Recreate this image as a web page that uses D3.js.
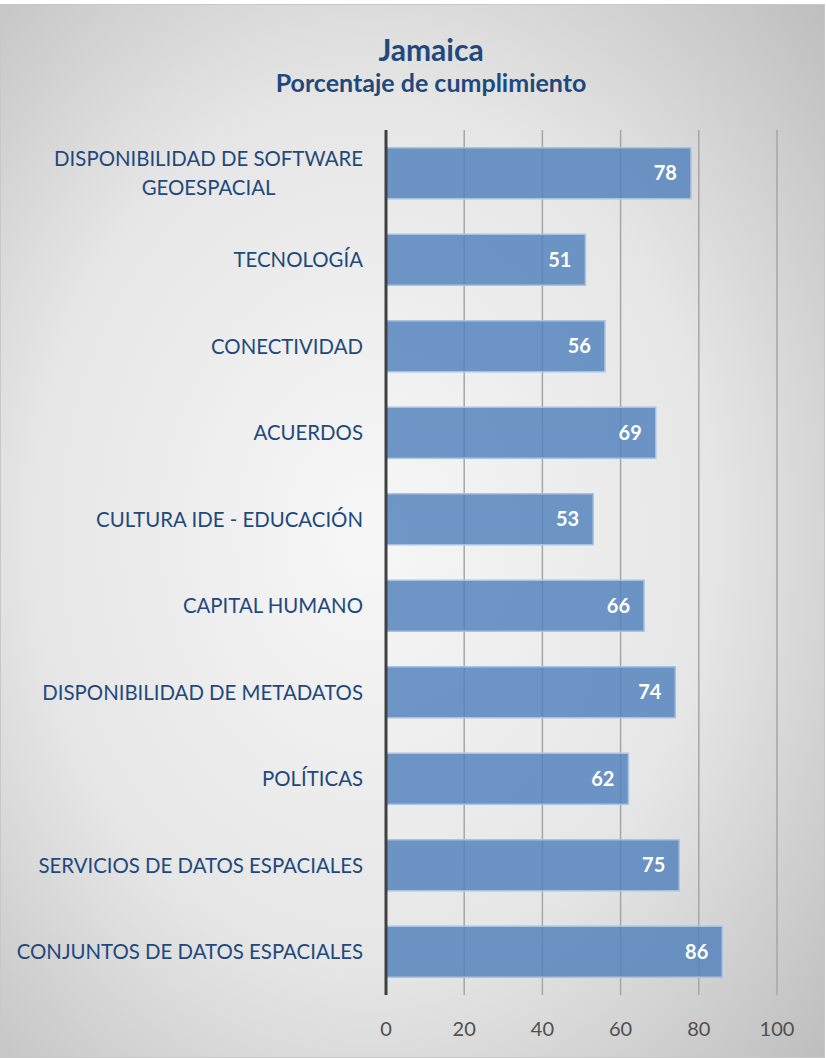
<!DOCTYPE html>
<meta charset="utf-8">
<style>
  body { margin: 0; background: #fff; }
  text { font-family: Lato, "Open Sans", sans-serif; }
</style>
<script src="https://d3js.org/d3.v7.min.js"></script>
<div id="my_dataviz"></div>
<script>
// data
var categories = [
  "DISPONIBILIDAD DE SOFTWARE GEOESPACIAL",
  "TECNOLOGÍA",
  "CONECTIVIDAD",
  "ACUERDOS",
  "CULTURA IDE - EDUCACIÓN",
  "CAPITAL HUMANO",
  "DISPONIBILIDAD DE METADATOS",
  "POLÍTICAS",
  "SERVICIOS DE DATOS ESPACIALES",
  "CONJUNTOS DE DATOS ESPACIALES"
];
var values = [78, 51, 56, 69, 53, 66, 74, 62, 75, 86];
var tickValues = [0, 20, 40, 60, 80, 100];

var width = 826, height = 1058;
var margin = {top: 130, right: 49, bottom: 63, left: 386};

var svg = d3.select("#my_dataviz").append("svg")
  .attr("width", width)
  .attr("height", height);

// background gradient
var grad = svg.append("defs").append("radialGradient")
  .attr("id", "bg")
  .attr("cx", "45%").attr("cy", "50%").attr("r", "75%");
grad.append("stop").attr("offset", "0%").attr("stop-color", "#f7f7f7");
grad.append("stop").attr("offset", "55%").attr("stop-color", "#e6e6e6");
grad.append("stop").attr("offset", "100%").attr("stop-color", "#bdbdbd");

svg.append("rect")
  .attr("x", 0.5).attr("y", 4.5)
  .attr("width", width - 2).attr("height", height - 5)
  .attr("fill", "url(#bg)")
  .attr("stroke", "#c8c8c8");

// title
svg.append("text")
  .attr("x", 431).attr("y", 61)
  .attr("text-anchor", "middle")
  .attr("fill", "#1f497d")
  .style("font-size", "30px").style("font-weight", "bold")
  .text("Jamaica");
svg.append("text")
  .attr("x", 431).attr("y", 92)
  .attr("text-anchor", "middle")
  .attr("fill", "#1f497d")
  .style("font-size", "25px").style("font-weight", "bold")
  .text("Porcentaje de cumplimiento");

var x = d3.scaleLinear()
  .domain([0, 100])
  .range([margin.left, width - margin.right]);

var y = d3.scaleBand()
  .domain(categories)
  .range([margin.top, height - margin.bottom])
  .paddingInner(0.41)
  .paddingOuter(0.205);

// gridlines
svg.append("g")
  .selectAll("line")
  .data(tickValues.slice(1))
  .enter().append("line")
    .attr("x1", function(d) { return x(d); })
    .attr("x2", function(d) { return x(d); })
    .attr("y1", margin.top)
    .attr("y2", height - margin.bottom)
    .attr("stroke", "#a6a6a6")
    .attr("stroke-width", 1.5);

// bars
svg.append("g")
  .selectAll("rect")
  .data(values)
  .enter().append("rect")
    .attr("x", x(0))
    .attr("y", function(d, i) { return y(categories[i]); })
    .attr("width", function(d) { return x(d) - x(0); })
    .attr("height", y.bandwidth())
    .attr("fill", "#4f81bd")
    .attr("fill-opacity", 0.82)
    .attr("stroke", "#a9c3e3")
    .attr("stroke-width", 1.5);

// value labels
svg.append("g")
  .selectAll("text")
  .data(values)
  .enter().append("text")
    .attr("x", function(d) { return x(d) - 14; })
    .attr("y", function(d, i) { return y(categories[i]) + y.bandwidth() / 2; })
    .attr("dy", "0.36em")
    .attr("text-anchor", "end")
    .attr("fill", "#ffffff")
    .style("font-size", "20px").style("font-weight", "bold")
    .text(function(d) { return d; });

// category labels (long one wraps onto two centred lines)
var labelRight = 363;
var labels = svg.append("g")
  .selectAll("text")
  .data(categories)
  .enter().append("text")
    .attr("y", function(d) { return y(d) + y.bandwidth() / 2; })
    .attr("fill", "#1f497d")
    .style("font-size", "20.4px");

labels.each(function(d) {
  var t = d3.select(this);
  if (d.length > 32) {
    var idx = d.lastIndexOf(" ");
    var lines = [d.slice(0, idx), d.slice(idx + 1)];
    var first = t.append("tspan").attr("dy", "-0.35em").text(lines[0]);
    var w = first.node().getComputedTextLength();
    var cx = labelRight - w / 2;
    t.attr("text-anchor", "middle");
    first.attr("x", cx);
    t.append("tspan").attr("x", cx).attr("dy", "1.42em").text(lines[1]);
  } else {
    t.attr("text-anchor", "end")
      .attr("x", labelRight)
      .attr("dy", "0.36em")
      .text(d);
  }
});

// y axis line
svg.append("line")
  .attr("x1", x(0)).attr("x2", x(0))
  .attr("y1", margin.top).attr("y2", height - margin.bottom)
  .attr("stroke", "#404040")
  .attr("stroke-width", 3);

// x tick labels
svg.append("g")
  .selectAll("text")
  .data(tickValues)
  .enter().append("text")
    .attr("x", function(d) { return x(d); })
    .attr("y", 1036)
    .attr("text-anchor", "middle")
    .attr("fill", "#505050")
    .style("font-size", "20px")
    .text(function(d) { return d; });
</script>
